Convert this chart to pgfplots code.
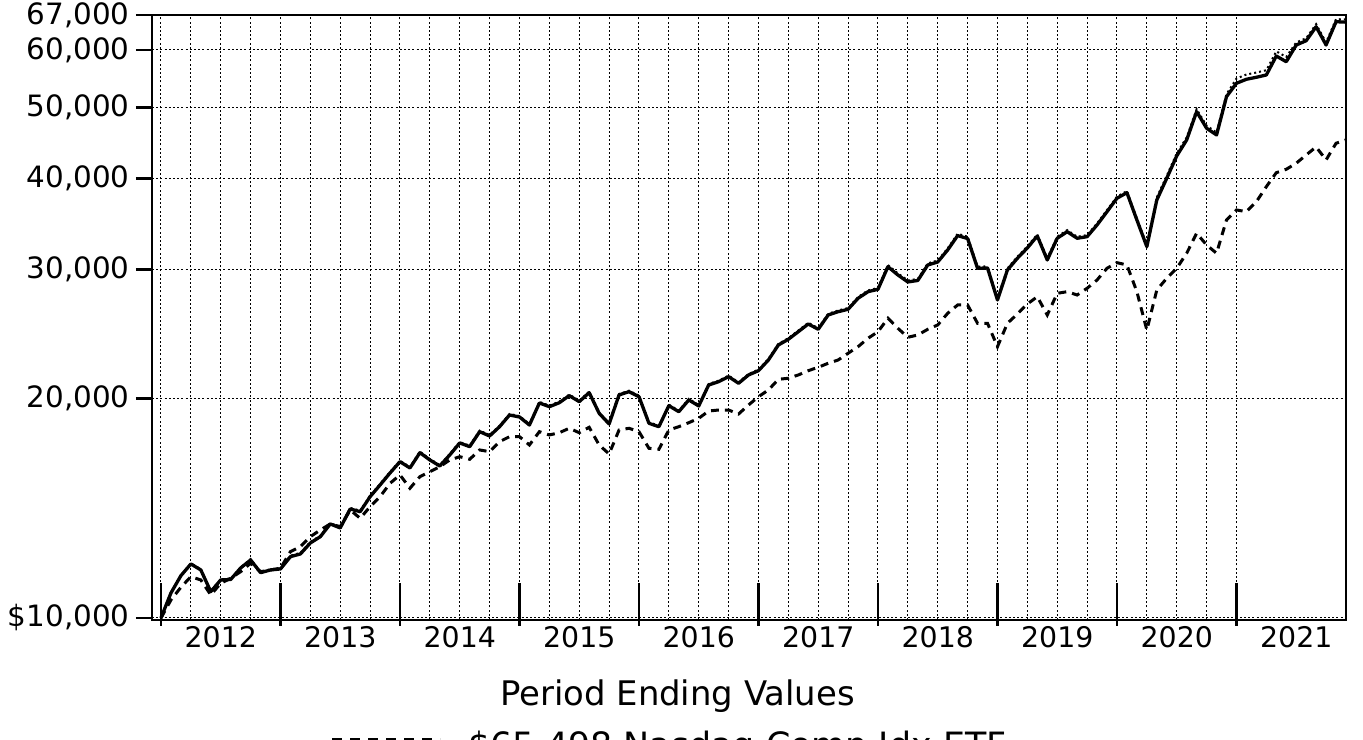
\documentclass[border=0pt]{standalone}
\usepackage{fontspec}
\setmainfont{DejaVu Sans}
\usepackage{pgfplots}
\usepackage{pgfplotstable}
\pgfplotsset{compat=1.18}
\pgfplotstableread{
m a b c
0 10000 10000 10000
1 10820 10850 10584
2 11427 11440 11017
3 11856 11880 11391
4 11635 11660 11274
5 10865 10890 10752
6 11274 11300 11157
7 11290 11320 11334
8 11708 11730 11572
9 12007 12040 11883
10 11536 11560 11572
11 11635 11660 11635
12 11672 11700 11698
13 12133 12170 12326
14 12237 12280 12521
15 12668 12710 12923
16 12923 12960 13199
17 13451 13490 13451
18 13283 13320 13338
19 14103 14150 14059
20 13983 14030 13695
21 14662 14710 14206
22 15212 15260 14662
23 15799 15850 15294
24 16372 16420 15700
25 16050 16100 15055
26 16844 16900 15616
27 16460 16510 15864
28 16151 16200 16116
29 16722 16780 16460
30 17367 17420 16632
31 17166 17220 16497
32 17997 18060 16988
33 17755 17810 16897
34 18283 18340 17439
35 18970 19030 17716
36 18851 18910 17716
37 18381 18440 17258
38 19704 19770 17997
39 19475 19540 17811
40 19722 19790 17941
41 20163 20230 18192
42 19785 19850 17941
43 20354 20420 18249
44 19072 19130 17258
45 18439 18500 16775
46 20207 20270 18094
47 20417 20480 18192
48 20097 20160 17997
49 18480 18540 17079
50 18283 18340 17025
51 19536 19600 18094
52 19170 19230 18283
53 19891 19960 18515
54 19518 19580 18774
55 20853 20920 19212
56 21071 21140 19272
57 21406 21480 19272
58 20965 21030 19030
59 21521 21590 19578
60 21815 21890 20097
61 22563 22640 20527
62 23656 23740 21231
63 24085 24170 21298
64 24670 24760 21521
65 25276 25370 21815
66 24857 24950 22050
67 26004 26100 22330
68 26276 26380 22563
69 26476 26580 23046
70 27410 27520 23530
71 27987 28100 24162
72 28200 28320 24670
73 30286 30440 25735
74 29503 29650 24935
75 28860 29000 24238
76 28997 29140 24414
77 30449 30600 24857
78 30738 30890 25197
79 31925 32090 26144
80 33400 33600 26838
81 33100 33300 26838
82 30134 30290 25332
83 30160 30310 25332
84 27263 27400 23530
85 29973 30120 25332
86 31099 31250 26086
87 32127 32290 26923
88 33366 33530 27548
89 30933 31090 26004
90 33125 33290 27845
91 33822 33990 27987
92 33125 33290 27696
93 33292 33460 28289
94 34544 34720 29042
95 36025 36210 30134
96 37582 37770 30671
97 38252 38440 30449
98 35093 35270 27987
99 32259 32420 24801
100 37381 37680 28138
101 40029 40350 29199
102 42946 43290 30134
103 45168 45530 31594
104 49383 49780 33651
105 46863 47240 32433
106 45884 46250 31594
107 51775 52190 35093
108 54012 54820 36218
109 54698 55520 36025
110 55043 55870 37181
111 55444 56280 38982
112 58861 59740 40738
113 57811 58680 41178
114 60938 61430 41968
115 61770 62260 43081
116 64565 65080 44183
117 60938 61430 42407
118 65592 66120 44699
119 65498 66050 45168
}\datatable
\begin{document}
\begin{tikzpicture}
\begin{axis}[
  at={(0,0)}, anchor=south west,
  scale only axis, width=1194bp, height=605bp,
  xmin=-0.9036, xmax=119,
  ymode=log, ymin=9937, ymax=67000,
  axis line style={line width=1.2bp, black},
  tick pos=left, tick align=inside,
  xtick={0,12,...,108},
  xticklabels={2012,2013,2014,2015,2016,2017,2018,2019,2020,2021},
  xticklabel style={xshift=59.8bp, yshift=-3bp},
  xtick style={black, line width=2.6bp, /pgfplots/major tick length=43bp, yshift=-6bp},
  minor x tick num=3,
  minor tick length=0pt,
  xmajorgrids, xminorgrids, ymajorgrids,
  major grid style={black, line width=1bp, dash pattern=on 2bp off 2.2bp},
  minor grid style={black, line width=1bp, dash pattern=on 2bp off 2.2bp},
  ytick={10000,20000,30000,40000,50000,60000,67000},
  yticklabels={{\$10,000},{20,000},{30,000},{40,000},{50,000},{60,000},{67,000}},
  ytick style={black, line width=2.6bp, /pgfplots/major tick length=16bp, xshift=-16bp},
  yticklabel style={xshift=-19bp, font=\fontsize{29.5}{31}\selectfont},
  xticklabel style={font=\fontsize{28.5}{30}\selectfont},
  tick label style={text=black},
]
\addplot[black, line width=3.3bp, line join=round] table[x=m, y=a] {\datatable};
\addplot[black, line width=2bp, dash pattern=on 2bp off 3bp] table[x=m, y=b] {\datatable};
\addplot[black, line width=3bp, dash pattern=on 8bp off 6bp] table[x=m, y=c] {\datatable};
\end{axis}
\node[anchor=base, font=\fontsize{34}{36}\selectfont] at (525.5bp,-85bp) {Period Ending Values};
\node[anchor=base west, font=\fontsize{35}{37}\selectfont] at (313bp,-137bp) {\$65,498 Nasdaq Comp Idx ETF};
\draw[line width=3bp, dash pattern=on 10bp off 8bp] (180bp,-119.5bp) -- (288bp,-119.5bp);
\pgfresetboundingbox
\path[use as bounding box] (-152bp,-120bp) rectangle (1211bp,620bp);
\end{tikzpicture}
\end{document}
